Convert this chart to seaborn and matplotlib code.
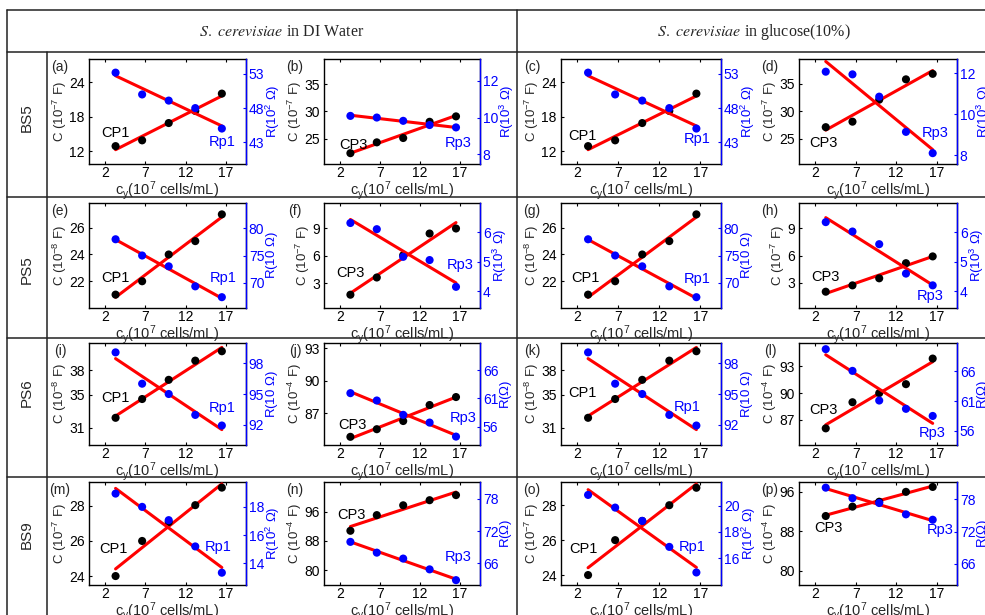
import matplotlib
matplotlib.use("Agg")
import matplotlib.pyplot as plt
from matplotlib.lines import Line2D
import seaborn as sns

W, H = 985, 615

# cell concentration (10^7 cells/mL)
conc = [3.3, 6.6, 9.9, 13.2, 16.5]

# capacitance (left axis) and resistance (right axis)
C_a = [12.9, 13.9, 16.9, 19.0, 22.0]
R_a = [53.2, 50.0, 49.1, 48.0, 45.0]
C_b = [22.3, 24.3, 25.1, 28.1, 29.1]
R_b = [10.09, 10.0, 9.82, 9.59, 9.46]
C_c = [12.9, 13.9, 16.9, 19.0, 22.0]
R_c = [53.2, 50.0, 49.1, 48.0, 45.0]
C_d = [27.1, 28.1, 32.1, 35.8, 36.8]
R_d = [12.08, 11.95, 10.86, 9.14, 8.1]
C_e = [21.0, 22.0, 24.0, 25.0, 27.0]
R_e = [78.0, 75.0, 73.0, 69.3, 67.3]
C_f = [1.73, 3.62, 6.07, 8.45, 9.0]
R_f = [6.32, 6.11, 5.17, 5.06, 4.15]
C_g = [21.0, 22.0, 24.0, 25.0, 27.0]
R_g = [78.0, 75.0, 73.0, 69.3, 67.3]
C_h = [2.0, 2.7, 3.48, 5.15, 5.9]
R_h = [6.35, 6.03, 5.6, 4.6, 4.2]
C_i = [32.2, 34.5, 36.85, 39.2, 40.35]
R_i = [99.04, 96.0, 95.0, 92.97, 91.94]
C_j = [84.85, 85.55, 86.3, 87.77, 88.5]
R_j = [61.95, 60.64, 58.08, 56.7, 54.2]
C_k = [32.2, 34.5, 36.85, 39.2, 40.35]
R_k = [99.04, 96.0, 95.0, 92.97, 91.94]
C_l = [86.06, 88.98, 90.0, 91.0, 93.86]
R_l = [69.76, 66.1, 61.1, 59.7, 58.5]
C_m = [24.0, 26.0, 27.08, 28.04, 29.04]
R_m = [18.94, 18.0, 17.06, 15.2, 13.34]
C_n = [90.8, 95.1, 97.8, 99.2, 100.6]
R_n = [70.0, 68.0, 66.9, 64.9, 62.9]
C_o = [24.0, 26.0, 27.1, 28.0, 29.0]
R_o = [20.84, 19.87, 18.85, 16.86, 14.9]
C_p = [91.1, 93.0, 94.0, 96.0, 97.0]
R_p = [80.15, 78.2, 77.3, 75.2, 74.2]

cap = [C_a, C_b, C_c, C_d, C_e, C_f, C_g, C_h, C_i, C_j, C_k, C_l, C_m, C_n, C_o, C_p]
res = [R_a, R_b, R_c, R_d, R_e, R_f, R_g, R_h, R_i, R_j, R_k, R_l, R_m, R_n, R_o, R_p]

letters = list("abcdefghijklmnop")
row_names = ["BS5", "PS5", "PS6", "BS9"]
media = ["DI Water", "glucose(10%)"]
c_exp = ["-7", "-7", "-7", "-7", "-8", "-7", "-8", "-7",
         "-8", "-4", "-8", "-4", "-7", "-4", "-7", "-4"]
r_unit = ["10^2", "10^3", "10^2", "10^3", "10", "10^3", "10", "10^3",
          "10", "", "10", "", "10^2", "", "10^2", ""]

# axis limits / ticks (left C axis, right R axis)
c_lim = [(9.8, 28.0), (20.3, 39.7), (9.8, 28.0), (20.4, 39.5),
         (20.0, 27.85), (0.27, 11.8), (20.0, 27.85), (0.2, 11.8),
         (28.87, 41.36), (84.1, 93.46), (28.87, 41.36), (84.2, 95.6),
         (23.49, 29.36), (75.9, 104.2), (23.43, 29.33), (77.1, 98.0)]
c_ticks = [[12, 18, 24], [25, 30, 35], [12, 18, 24], [25, 30, 35],
           [22, 24, 26], [3, 6, 9], [22, 24, 26], [3, 6, 9],
           [31, 35, 38], [87, 90, 93], [31, 35, 38], [87, 90, 93],
           [24, 26, 28], [80, 88, 96], [24, 26, 28], [80, 88, 96]]
r_lim = [(39.8, 55.2), (7.46, 13.2), (39.8, 55.2), (7.57, 12.7),
         (65.3, 84.7), (3.43, 7.0), (65.3, 84.7), (3.43, 7.0),
         (90.05, 99.95), (52.7, 70.9), (90.05, 99.95), (53.6, 70.8),
         (12.47, 19.76), (62.0, 81.1), (13.94, 21.83), (62.1, 81.2)]
r_ticks = [[43, 48, 53], [8, 10, 12], [43, 48, 53], [8, 10, 12],
           [70, 75, 80], [4, 5, 6], [70, 75, 80], [4, 5, 6],
           [92, 95, 98], [56, 61, 66], [92, 95, 98], [56, 61, 66],
           [14, 16, 18], [66, 72, 78], [16, 18, 20], [66, 72, 78]]

# layout in pixels
col_left = [89, 324, 561, 799]
col_right = [246, 480, 721, 957]
row_top = [59, 203, 343, 482]
row_bottom = [164, 308, 445, 585]
row_label_y = [118, 270, 393, 535]
cp_pos = [(115, 133), (353, 145), (582, 136), (823, 143),
          (115, 278), (350, 273), (585, 278), (825, 277),
          (115, 398), (352, 425), (582, 393), (823, 410),
          (113, 549), (351, 515), (583, 549), (828, 528)]
rp_pos = [(222, 142), (458, 143), (697, 139), (935, 133),
          (223, 278), (460, 265), (697, 279), (930, 296),
          (222, 408), (463, 418), (687, 407), (932, 433),
          (218, 547), (458, 557), (692, 547), (940, 530)]

sns.set_style("ticks")
plt.rcParams["font.family"] = ["Liberation Sans", "DejaVu Sans"]
plt.rcParams["mathtext.fontset"] = "custom"
plt.rcParams["mathtext.rm"] = "Liberation Sans"
plt.rcParams["mathtext.it"] = "Liberation Sans:italic"

fig = plt.figure(figsize=(W / 100, H / 100), dpi=100)


def fx(px):
    return px / W


def fy(py):
    return 1 - py / H


# table grid
def hline(y, x0=7, x1=W):
    fig.add_artist(Line2D([fx(x0), fx(x1)], [fy(y), fy(y)], color="#222222", lw=1.1))


def vline(x, y0, y1=H):
    fig.add_artist(Line2D([fx(x), fx(x)], [fy(y0), fy(y1)], color="#222222", lw=1.1))


for y in [10, 52, 197, 338, 477]:
    hline(y)
vline(7, 10)
vline(47, 52)
vline(517, 10)

for i, m in enumerate(media):
    cx = 282 if i == 0 else 754
    fig.text(fx(cx), fy(32), r"$\mathit{S.\ cerevisiae}$ in " + m,
             ha="center", va="center", fontsize=11.5,
             family="Liberation Serif", math_fontfamily="stix")

for r, name in enumerate(row_names):
    fig.text(fx(27), fy(row_label_y[r]), name, rotation=90,
             ha="center", va="center", fontsize=11)

scat = dict(s=34, zorder=5, edgecolor="none", alpha=1)
line = dict(color="red", lw=2.2, zorder=4)

for k in range(16):
    r, c = divmod(k, 4)
    l, rt = col_left[c], col_right[c]
    t, b = row_top[r], row_bottom[r]
    ax = fig.add_axes([fx(l), fy(b), (rt - l) / W, (b - t) / H])
    ax2 = ax.twinx()

    sns.regplot(x=conc, y=cap[k], ax=ax, ci=None, color="black",
                scatter_kws=scat, line_kws=line)
    sns.regplot(x=conc, y=res[k], ax=ax2, ci=None, color="blue",
                scatter_kws=scat, line_kws=line)

    ax.set_xlim(0, 19.5)
    ax.set_xticks([2, 7, 12, 17])
    ax.set_ylim(*c_lim[k])
    ax.set_yticks(c_ticks[k])
    ax2.set_ylim(*r_lim[k])
    ax2.set_yticks(r_ticks[k])

    ax.tick_params(axis="both", direction="in", length=2.5, width=0.8,
                   labelsize=10, pad=3, colors="black")
    ax.tick_params(axis="x", top=True, pad=1.5)
    ax.tick_params(axis="y", right=False)
    ax2.tick_params(axis="y", direction="in", length=2.5, width=0.8,
                    labelsize=10, pad=2, colors="blue")
    for s in ["top", "bottom", "left", "right"]:
        ax.spines[s].set_visible(True)
        ax.spines[s].set_color("black")
        ax.spines[s].set_linewidth(1.0)
    for s in ["top", "bottom", "left"]:
        ax2.spines[s].set_visible(False)
    ax2.spines["right"].set_color("blue")
    ax2.spines["right"].set_linewidth(1.0)

    ax.set_xlabel(r"c$_\mathrm{y}$(10$^7$ cells/mL)", fontsize=10.5, labelpad=-1)
    ax.set_ylabel(r"C (10$^{" + c_exp[k] + r"}$ F)", fontsize=9.5, labelpad=0)
    ru = r_unit[k]
    if ru == "":
        rlab = r"R($\Omega$)"
    elif ru == "10":
        rlab = r"R(10 $\Omega$)"
    else:
        rlab = r"R(10$^" + ru[-1] + r"$ $\Omega$)"
    ax2.set_ylabel(rlab, fontsize=9.5, color="blue", labelpad=0)

    num = "1" if c % 2 == 0 else "3"
    fig.text(fx(cp_pos[k][0]), fy(cp_pos[k][1]), "CP" + num,
             ha="center", va="center", fontsize=10.5, color="black")
    fig.text(fx(rp_pos[k][0]), fy(rp_pos[k][1]), "Rp" + num,
             ha="center", va="center", fontsize=10.5, color="blue")
    fig.text(fx(l - 29), fy(t + 8), "(" + letters[k] + ")",
             ha="center", va="center", fontsize=10)

fig.savefig("out.png", dpi=100)
